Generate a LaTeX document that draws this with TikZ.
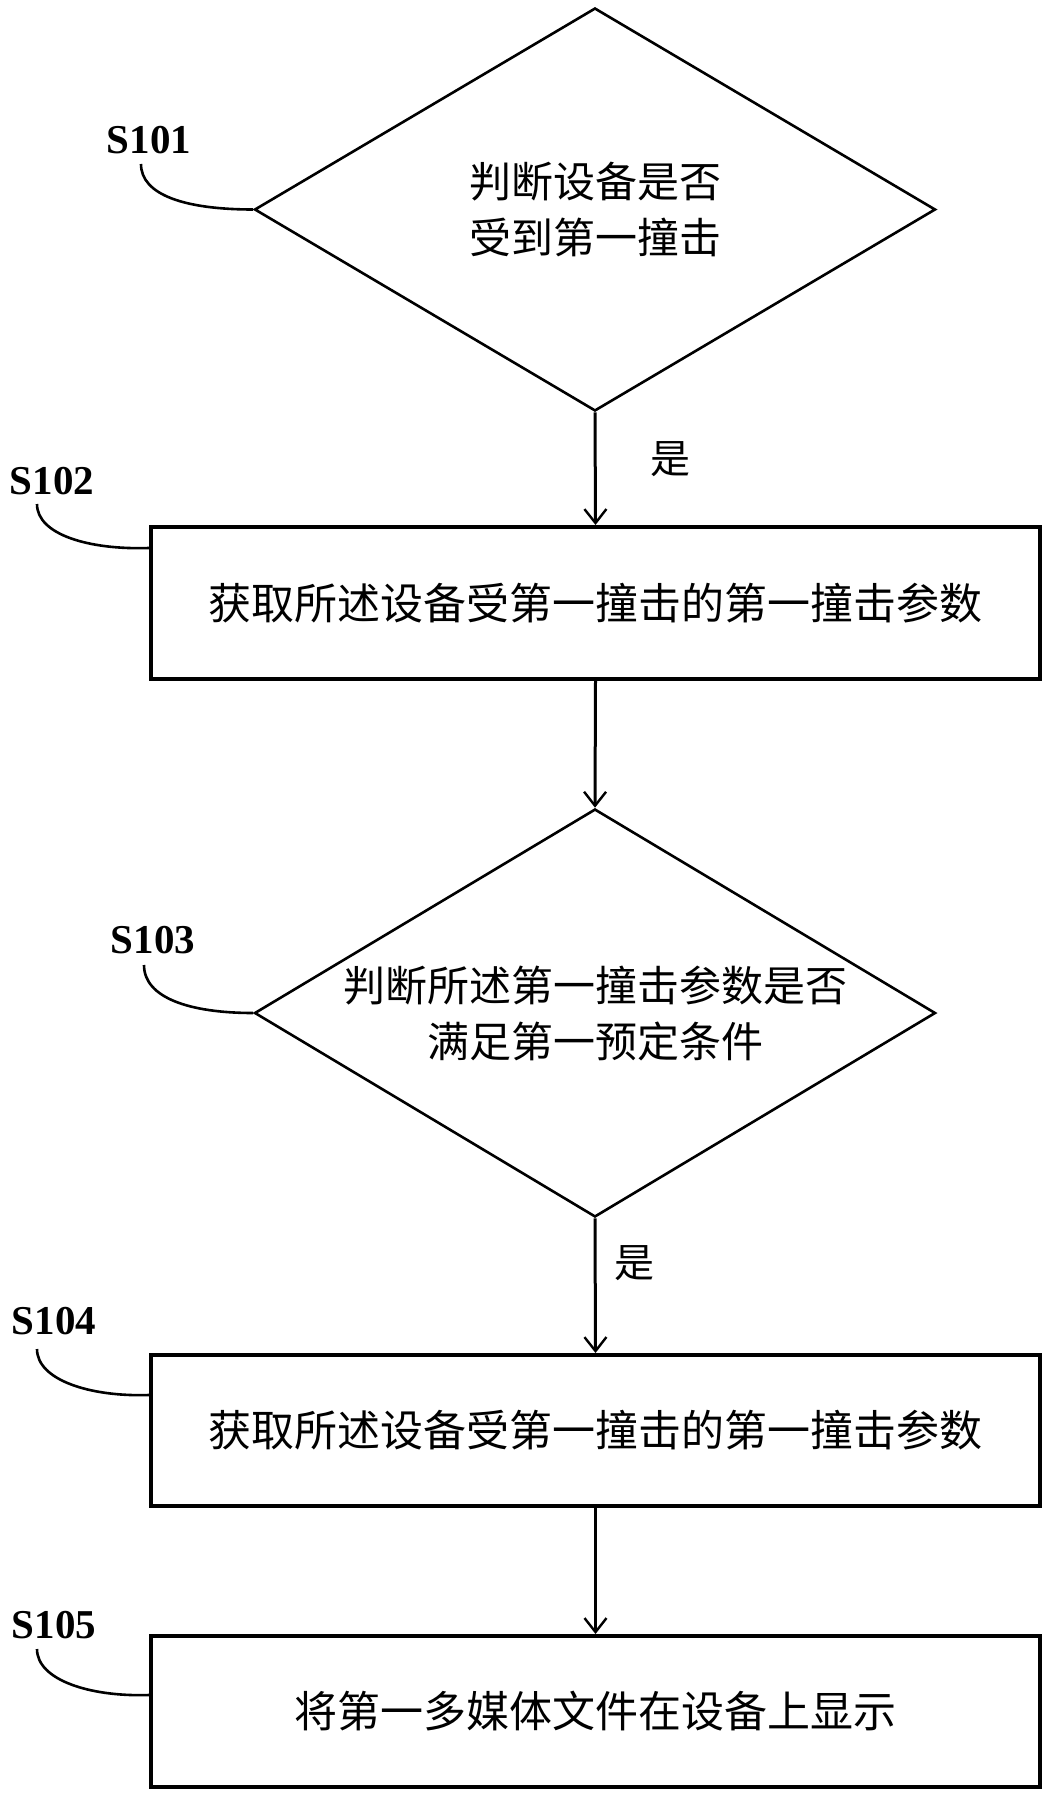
\documentclass[tikz,border=0pt]{standalone}
\usepackage{fontspec}
\setmainfont{Liberation Serif}
\newfontfamily\cjk{Noto Sans CJK SC}
\usetikzlibrary{shapes.geometric,arrows.meta}
\begin{document}
\begin{tikzpicture}[x=1pt,y=-1pt,
  dia/.style={draw, line width=2.6pt, shape=diamond, aspect=1.686, inner sep=0pt,
    minimum width=681pt, align=center, font=\cjk\fontsize{42}{56}\selectfont},
  stepbox/.style={draw, line width=4pt, rectangle, minimum width=889pt, inner sep=0pt,
    font=\cjk\fontsize{43}{50}\selectfont},
  slabel/.style={font=\bfseries\fontsize{41}{44}\selectfont, inner sep=0pt},
  yeslabel/.style={font=\cjk\fontsize{40}{44}\selectfont, inner sep=0pt},
  arr/.style={line width=3pt, -{Straight Barb[length=14pt,width=22pt,line width=2.4pt]}},
  lead/.style={line width=2.6pt}]
\useasboundingbox (0,0) rectangle (1047,1798);
\fill[white] (0,0) rectangle (1047,1798);

\node[dia, minimum height=403pt] (d1) at (595,209.5) {判断设备是否\\受到第一撞击};
\node[stepbox, minimum height=152pt] (b1) at (595.5,603) {获取所述设备受第一撞击的第一撞击参数};
\node[dia, minimum height=408pt] (d2) at (595,1013) {判断所述第一撞击参数是否\\满足第一预定条件};
\node[stepbox, minimum height=151pt] (b2) at (595.5,1430.5) {获取所述设备受第一撞击的第一撞击参数};
\node[stepbox, minimum height=151pt] (b3) at (595.5,1711.5) {将第一多媒体文件在设备上显示};

\draw[arr] (d1.south) -- (b1.north);
\draw[arr] (b1.south) -- (d2.north);
\draw[arr] (d2.south) -- (b2.north);
\draw[arr] (b2.south) -- (b3.north);

\node[yeslabel] (y1) at (670,459) {是};
\node[yeslabel] (y2) at (634,1263) {是};

\node[slabel] (l1) at (149,140) {S101};
\node[slabel] (l2) at (52,481) {S102};
\node[slabel] (l3) at (153,940) {S103};
\node[slabel] (l4) at (54,1321) {S104};
\node[slabel] (l5) at (54,1625) {S105};

\coordinate (c1) at (141,164);
\coordinate (c2) at (37,504);
\coordinate (c3) at (144,965);
\coordinate (c4) at (37,1349);
\coordinate (c5) at (37,1649);

\draw[lead] (c1) .. controls (141,195) and (185,209.5) .. (d1.west);
\draw[lead] (c2) .. controls (37,535) and (90,550) .. ([yshift=-23pt]b1.north west);
\draw[lead] (c3) .. controls (144,998) and (190,1013) .. (d2.west);
\draw[lead] (c4) .. controls (37,1380) and (90,1397) .. ([yshift=-42pt]b2.north west);
\draw[lead] (c5) .. controls (37,1680) and (90,1697) .. ([yshift=-61pt]b3.north west);
\end{tikzpicture}
\end{document}
